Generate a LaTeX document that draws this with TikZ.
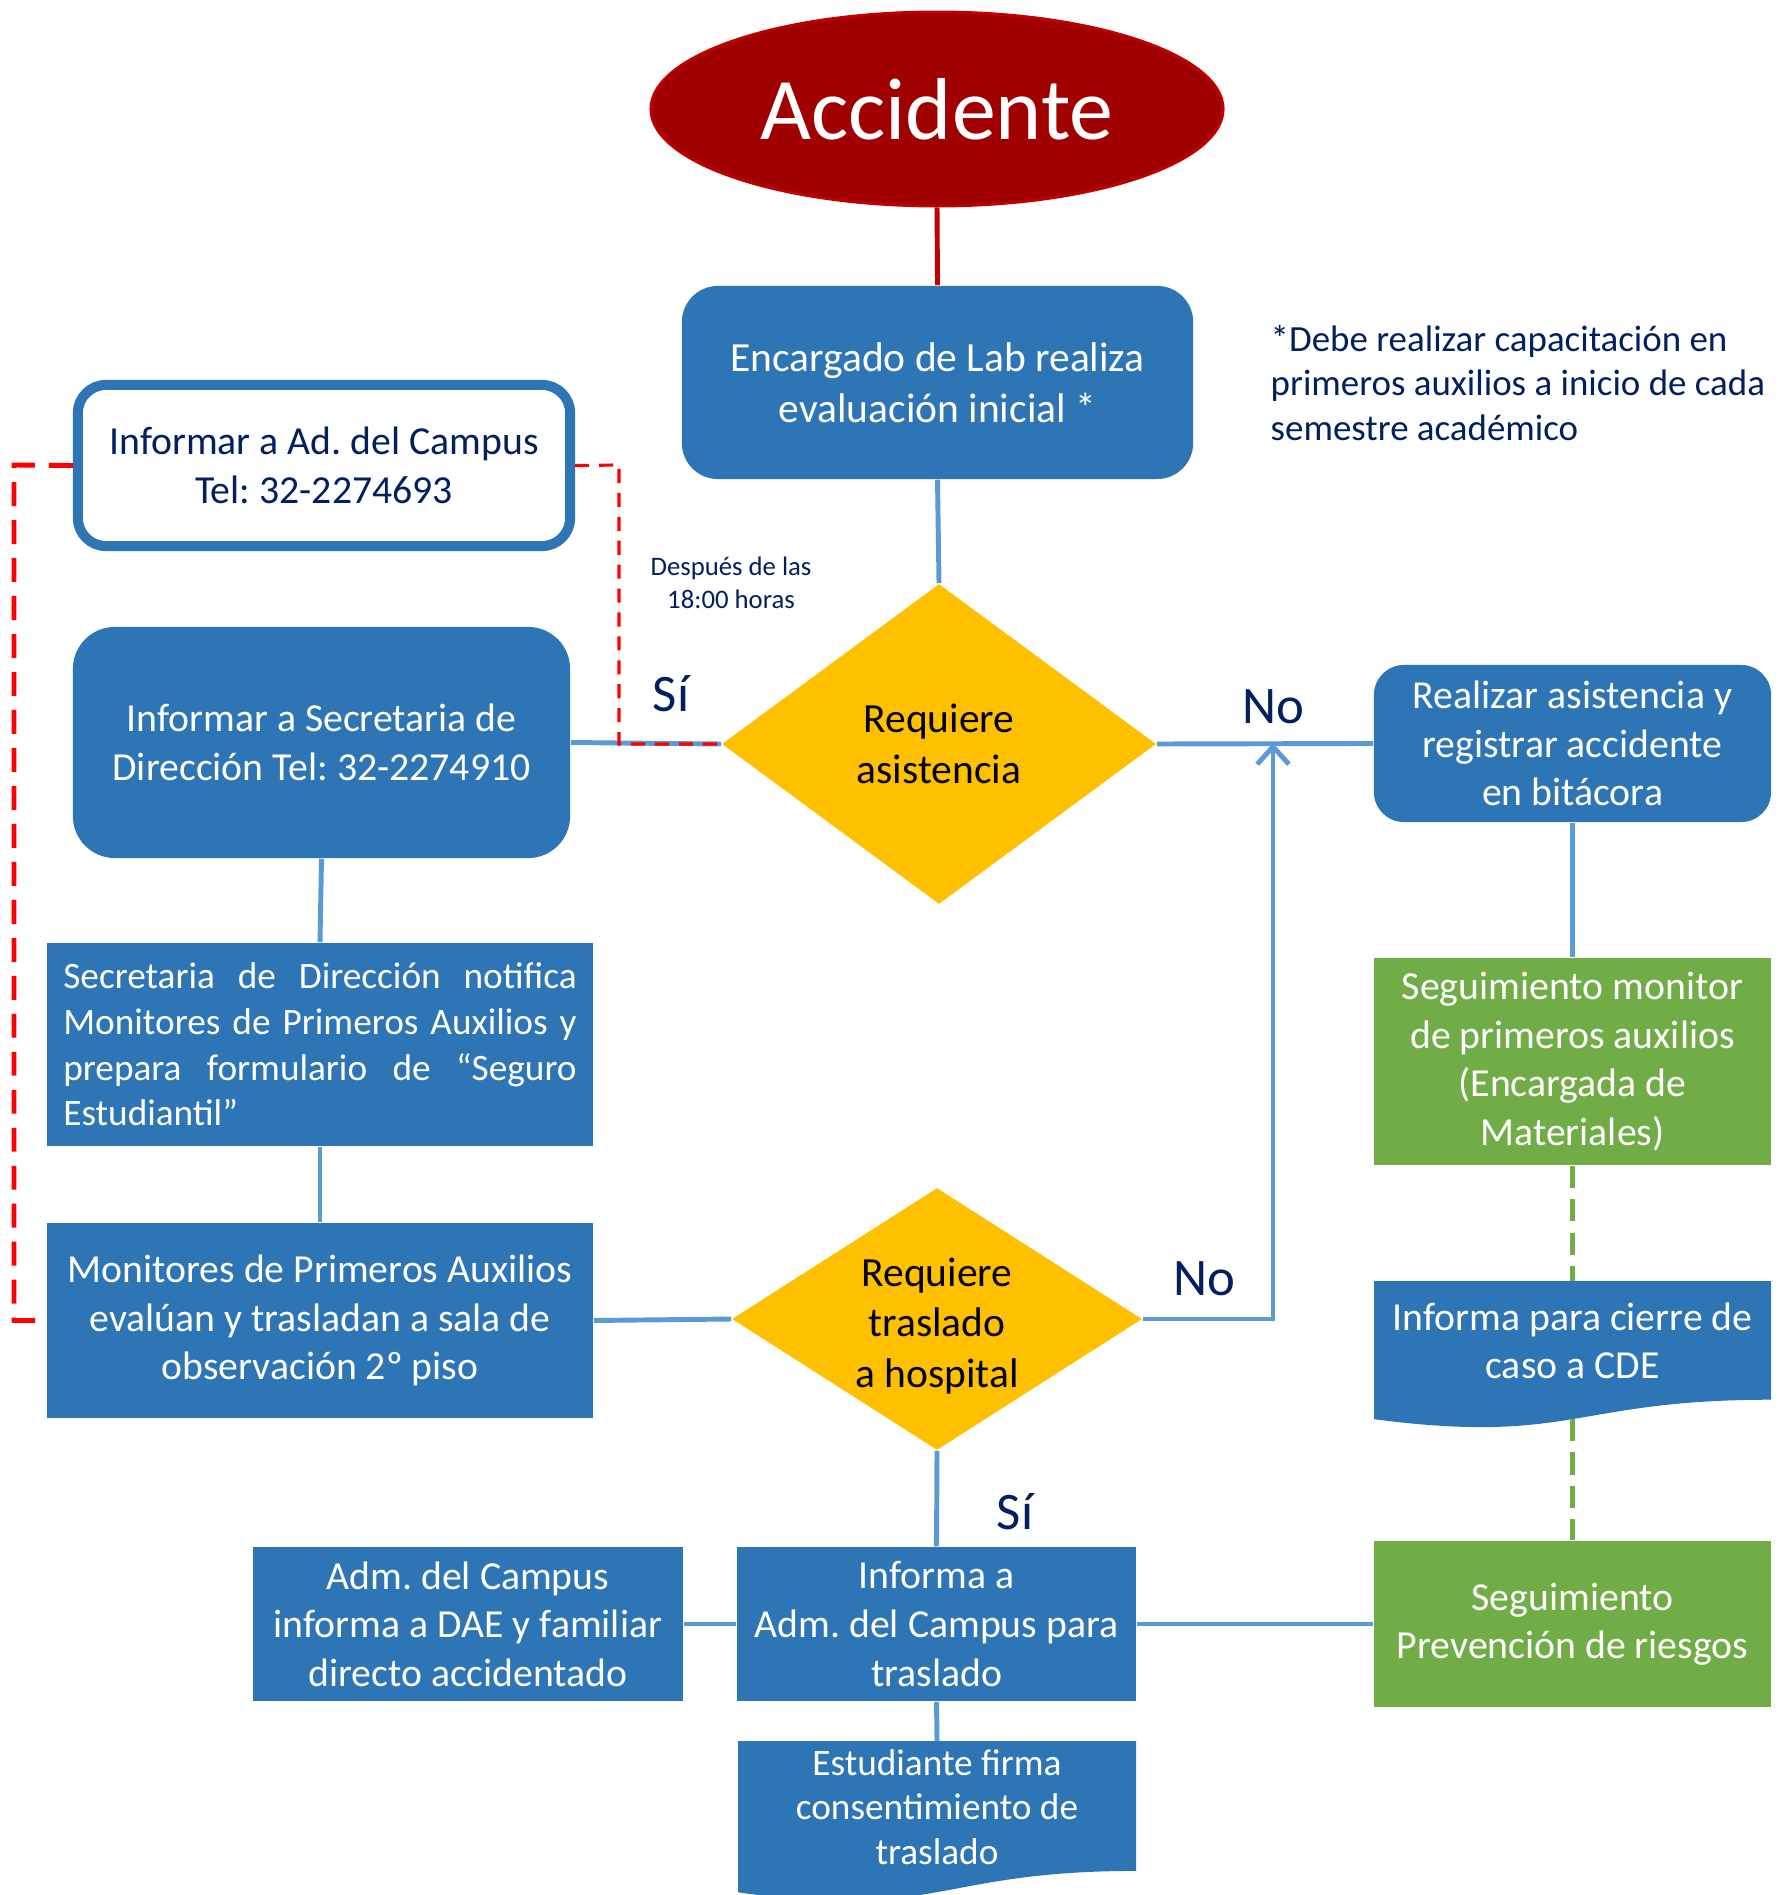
\documentclass[tikz,border=0pt]{standalone}
\usepackage{fontspec}
\setmainfont{Carlito}
\usetikzlibrary{shapes.geometric,arrows.meta}
\definecolor{boxblue}{HTML}{2E75B6}
\definecolor{lineblue}{HTML}{5B9BD5}
\definecolor{navy}{HTML}{002060}
\definecolor{accred}{HTML}{A00000}
\definecolor{accborder}{HTML}{C00000}
\definecolor{amber}{HTML}{FFC000}
\definecolor{leaf}{HTML}{70AD47}
\newcommand{\fsz}[2]{\fontsize{#1}{#2}\selectfont}
\frenchspacing
\begin{document}
\begin{tikzpicture}[x=0.01cm,y=-0.01cm,
  bluebox/.style={rectangle, fill=boxblue, text=white, align=center, inner sep=0pt, font=\fsz{11.3pt}{13.8pt}\frenchspacing},
  greenbox/.style={bluebox, fill=leaf},
  decision/.style={diamond, fill=amber, inner sep=0pt},
  dtext/.style={text=black, align=center, inner sep=0pt, font=\fsz{11.8pt}{14.4pt}},
  conn/.style={draw=lineblue, line width=1.4pt},
  gdash/.style={draw=leaf, line width=1.4pt, dash pattern=on 6.3pt off 3.2pt},
  rdashL/.style={draw=red, line width=1.4pt, dash pattern=on 6.8pt off 4pt},
  rdashR/.style={draw=red, line width=0.9pt, dash pattern=on 4pt off 2.8pt},
  lbl/.style={text=navy, inner sep=0pt, font=\fsz{15pt}{18pt}}]
\useasboundingbox (0,0) rectangle (1784,1895);
\fill[white] (0,0) rectangle (1784,1895);

% nodes
\node[ellipse, fill=accred, draw=accborder, line width=0.8pt, minimum width=5.72cm, minimum height=1.94cm, inner sep=0pt, text=white, font=\fsz{25pt}{30pt}] (acc) at (937,109) {Accidente};

\node[bluebox, rounded corners=0.36cm, minimum width=5.11cm, minimum height=1.93cm, font=\fsz{11.8pt}{14.5pt}] (enc) at (937.5,382.5) {Encargado de Lab realiza\\evaluación inicial *};

\node[text=navy, align=left, anchor=west, inner sep=0pt, font=\fsz{10.5pt}{12.6pt}] (note) at (1270,383) {*Debe realizar capacitación en\\primeros auxilios a inicio de cada\\semestre académico};

\node[rectangle, draw=boxblue, line width=2.85pt, fill=white, rounded corners=0.28cm, minimum width=4.92cm, minimum height=1.61cm, inner sep=0pt, text=navy, align=center, font=\fsz{11.3pt}{13.8pt}] (ad) at (324,465.5) {Informar a Ad. del Campus\\Tel: 32-2274693};

\node[text=navy, align=center, inner sep=0pt, font=\fsz{7.6pt}{9.3pt}] (desp) at (731,583) {Después de las\\18:00 horas};

\node[bluebox, rounded corners=0.42cm, minimum width=4.97cm, minimum height=2.31cm] (sec) at (321.5,742.5) {Informar a Secretaria de\\Dirección Tel: 32-2274910};

\node[decision, minimum width=4.34cm, minimum height=3.2cm] (d1) at (939,744) {};
\node[dtext] (d1t) at (939,744) {Requiere\\asistencia};

\node[bluebox, rounded corners=0.3cm, minimum width=3.97cm, minimum height=1.57cm] (real) at (1572.5,743.5) {Realizar asistencia y\\registrar accidente\\en bitácora};

\node[bluebox, minimum width=5.46cm, minimum height=2.03cm, text width=5.13cm, align=justify, font=\fsz{10.6pt}{13pt}] (notif) at (320,1044.5) {Secretaria de Dirección notifica\linebreak Monitores de Primeros Auxilios y\linebreak prepara formulario de “Seguro\linebreak Estudiantil”};

\node[greenbox, minimum width=3.97cm, minimum height=2.07cm] (seg1) at (1572.5,1061.5) {Seguimiento monitor\\de primeros auxilios\\(Encargada de\\Materiales)};

\node[bluebox, minimum width=5.46cm, minimum height=1.95cm] (mon) at (320,1320.5) {Monitores de Primeros Auxilios\\evalúan y trasladan a sala de\\observación 2º piso};

\node[decision, minimum width=4.1cm, minimum height=2.62cm] (d2) at (937,1319) {};
\node[dtext] (d2t) at (937,1326) {Requiere\\traslado\\a hospital};

% document shape: Informa para cierre
\fill[boxblue] (1374,1281) -- (1771,1281) -- (1771,1399.7) .. controls (1572.5,1399.7) and (1572.5,1444.9) .. (1374,1419.2) -- cycle;
\node[text=white, align=center, inner sep=0pt, font=\fsz{11.3pt}{13.8pt}] (cde) at (1572.5,1341) {Informa para cierre de\\caso a CDE};
\coordinate (cdetop) at (1572.5,1281);
\coordinate (cdebot) at (1572.5,1419);

\node[greenbox, minimum width=3.97cm, minimum height=1.66cm] (seg2) at (1572.5,1624) {Seguimiento\\Prevención de riesgos};

\node[bluebox, minimum width=3.99cm, minimum height=1.54cm] (inf) at (936.5,1624) {Informa a\\Adm. del Campus para\\traslado};

\node[bluebox, minimum width=4.3cm, minimum height=1.54cm] (adm) at (468,1624) {Adm. del Campus\\informa a DAE y familiar\\directo accidentado};

% document shape: Estudiante firma
\fill[boxblue] (738,1741) -- (1136,1741) -- (1136,1870.9) .. controls (937,1870.9) and (937,1920.4) .. (738,1892.3) -- cycle;
\node[text=white, align=center, inner sep=0pt, font=\fsz{10.6pt}{12.7pt}] (est) at (937,1807) {Estudiante firma\\consentimiento de\\traslado};
\coordinate (esttop) at (937,1741);

% labels
\node[lbl] (si1) at (671,694) {Sí};
\node[lbl] (no1) at (1273,707) {No};
\node[lbl] (no2) at (1204,1279) {No};
\node[lbl] (si2) at (1015,1512) {Sí};

% connectors
\draw[draw=accborder, line width=1.4pt] (acc.south) -- (enc.north);
\draw[conn] (enc.south) -- (d1.north);
\draw[conn] (sec.east) -- (d1.west);
\draw[conn] (d1.east) -- (real.west);
\draw[conn] (real.south) -- (seg1.north);
\draw[conn] (sec.south) -- (notif.north);
\draw[conn] (notif.south) -- (mon.north);
\draw[conn] (mon.east) -- (d2.west);
\coordinate (nojoin) at (1273,743);
\draw[conn, -{Straight Barb[length=5pt,width=9pt,line width=1.4pt]}] (d2.east) -| (nojoin);
\draw[conn] (d2.south) -- (inf.north);
\draw[conn] (adm.east) -- (inf.west);
\draw[conn] (inf.east) -- (seg2.west);
\draw[conn] (inf.south) -- (esttop);
\draw[gdash] (seg1.south) -- (cdetop);
\draw[gdash] (cdebot) -- (seg2.north);

\coordinate (redL) at (14,465);
\coordinate (redR) at (619,465);
\draw[rdashL] (ad.west) -- (redL) |- (mon.west);
\draw[rdashR] (ad.east) -- (redR) |- (d1.west);
\end{tikzpicture}
\end{document}
